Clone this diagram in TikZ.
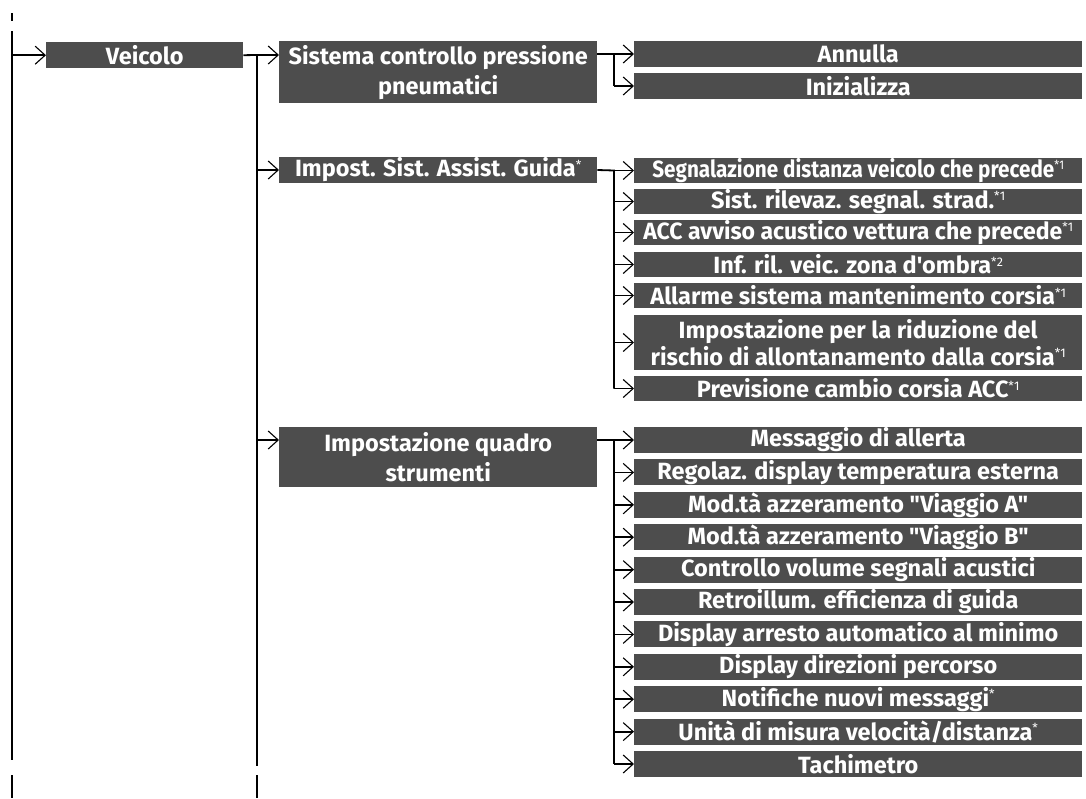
\documentclass[tikz,border=0pt]{standalone}
\usepackage{fontspec,graphicx}
\setmainfont{Fira Sans}[Ligatures=TeXOff]
\usetikzlibrary{arrows.meta,positioning}
\definecolor{tile}{HTML}{4D4D4D}
\tikzset{menu/.style={fill=tile,text=white,font=\bfseries\fontsize{23.5}{30}\selectfont,inner sep=0pt,align=center}, leaf/.style={menu,anchor=west,minimum width=448pt,minimum height=25.5pt}, link/.style={line width=1.8pt,draw=black}, arr/.style={link,-{Straight Barb[length=10pt,width=18pt,line width=1.1pt]}}}
\newcommand{\fn}[1]{\raisebox{7.5pt}{\mdseries\fontsize{12.5}{12.5}\selectfont#1}}

\begin{document}
\begin{tikzpicture}[x=1pt,y=-1pt]
\useasboundingbox (0,0) rectangle (1086,798);
% trunks
\coordinate (rootA) at (12,31); \coordinate (rootB) at (12,760);
\coordinate (subA) at (257,55); \coordinate (subB) at (257,766);
\draw[link,line width=1.2pt](12,13)--(12,21);
\draw[link](rootA)--(rootB);
\draw[link](12,775)--(12,798);
\draw[link](subA)--(subB);
\draw[link](257,775)--(257,798);
% level 1 and 2
\node[menu,anchor=north west,minimum width=197pt,minimum height=26pt] (veicolo) at (46,42){Veicolo};
\node[menu,anchor=north west,minimum width=318pt,minimum height=62pt] (tpms) at (279,41){Sistema controllo pressione\\pneumatici};
\node[menu,anchor=west,minimum width=318pt,minimum height=26pt] (adas) at (279,170){Impost. Sist. Assist. Guida\fn{*}};
\node[menu,anchor=north west,minimum width=318pt,minimum height=60pt] (quadro) at (279,427){Impostazione quadro\\strumenti};
\draw[arr](rootA|-veicolo.west)--(veicolo.west);
\draw[link](veicolo.east)--(subA);
\draw[arr](subA)--(tpms.west|-subA);
\draw[arr](subA|-adas.west)--(adas.west);
\draw[arr](257,440)--(quadro.west|-0,440);
% level 3
\foreach \n/\y/\t in {1/54/{Annulla},2/86/{Inizializza}}{\node[leaf] (tp\n) at (634,\y){\t};\draw[arr](614,\y)--(tp\n.west);}
\draw[link](tpms.east|-tp1)--(614,54)--(614,86);
\foreach \n/\y/\t in {1/170.5/{\scalebox{.88}[1]{Segnalazione distanza veicolo che precede\fn{*1}}},2/201.5/{Sist. rilevaz. segnal. strad.\fn{*1}},3/232.5/{\scalebox{.98}[1]{ACC avviso acustico vettura che precede\fn{*1}}},4/264.5/{Inf. ril. veic. zona d'ombra\fn{*2}},5/295.5/{Allarme sistema mantenimento corsia\fn{*1}},7/388.5/{Previsione cambio corsia ACC\fn{*1}}}{\node[leaf] (as\n) at (634,\y){\t};\draw[arr](614,\y)--(as\n.west);}
\node[leaf,minimum height=55pt,font=\bfseries\fontsize{23.5}{27}\selectfont] (as6) at (634,342.5){Impostazione per la riduzione del\\rischio di allontanamento dalla corsia\fn{*1}};
\draw[arr](614,342.5)--(as6.west);
\draw[link](adas.east)--(614,170.5)--(614,388.5);
\foreach \n/\t in {0/{Messaggio di allerta},1/{Regolaz. display temperatura esterna},2/{Mod.tà azzeramento "Viaggio A"},3/{Mod.tà azzeramento "Viaggio B"},4/{Controllo volume segnali acustici},5/{Retroillum. efficienza di guida},6/{Display arresto automatico al minimo},7/{Display direzioni percorso},8/{Notifiche nuovi messaggi\fn{*}},9/{Unità di misura velocità/distanza\fn{*}},10/{Tachimetro}}{\node[leaf,minimum height=26pt] (qs\n) at (634,440+32.4*\n){\t};\draw[arr](614,440+32.4*\n)--(qs\n.west);}
\draw[link](quadro.east|-qs0)--(614,440)--(614,764);
\end{tikzpicture}
\end{document}
